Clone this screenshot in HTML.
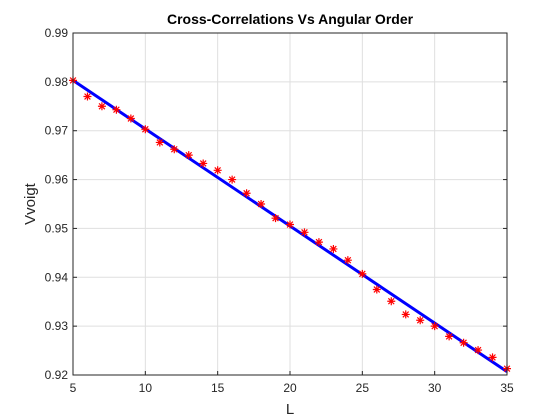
<!DOCTYPE html>
<html><head><meta charset="utf-8"><style>
body{margin:0;background:#fff;}
svg{display:block;font-family:"Liberation Sans",Arial,sans-serif;}
</style></head><body>
<svg id="chart" width="560" height="420">
<rect width="560" height="420" fill="#fff"/>
<rect x="73" y="33" width="434" height="342" fill="#fff"/>
<g id="grid"></g>
<g id="ticks"></g>
<g id="series"></g>
<rect x="73" y="33" width="434" height="342" fill="none" stroke="#262626" stroke-width="1"/>
<text x="290" y="24" text-anchor="middle" font-size="14" font-weight="bold" fill="#000">Cross-Correlations Vs Angular Order</text>
<text x="290" y="414" text-anchor="middle" font-size="15" fill="#262626">L</text>
<text transform="translate(35,204) rotate(-90)" text-anchor="middle" font-size="15" fill="#262626">Vvoigt</text>
</svg>
<script>
const xTicks=[5,10,15,20,25,30,35];
const yTicks=[0.92,0.93,0.94,0.95,0.96,0.97,0.98,0.99];
const yTickLabels=["0.92","0.93","0.94","0.95","0.96","0.97","0.98","0.99"];
const L=[5,6,7,8,9,10,11,12,13,14,15,16,17,18,19,20,21,22,23,24,25,26,27,28,29,30,31,32,33,34,35];
const V=[0.9803,0.9770,0.9750,0.9743,0.9725,0.9703,0.9676,0.9662,0.9650,0.9633,0.9619,0.9600,0.9572,0.9550,0.9521,0.9508,0.9492,0.9472,0.9458,0.9435,0.9407,0.9375,0.9351,0.9324,0.9312,0.9300,0.9279,0.9266,0.9251,0.9236,0.9213];
const fitL=[5,35];
const fitV=[0.9803,0.9207];
const NS='http://www.w3.org/2000/svg';
const X=v=>73+(v-5)/30*434;
const Y=v=>375-(v-0.92)/0.07*342;
function mk(t,a,p){const e=document.createElementNS(NS,t);for(const k in a)e.setAttribute(k,a[k]);p.appendChild(e);return e;}
const grid=document.getElementById('grid'),ticks=document.getElementById('ticks'),series=document.getElementById('series');
xTicks.forEach(t=>{
  const g=mk('line',{x1:X(t),x2:X(t),y1:33,y2:375,stroke:'#dfdfdf'},grid);
  
  const tk=mk('line',{x1:X(t),x2:X(t),y1:375,y2:371,stroke:'#262626'},ticks);
  
  const tx=mk('text',{x:X(t),y:392,'text-anchor':'middle','font-size':'12',fill:'#262626'},ticks);
  tx.textContent=t;
  
});
yTicks.forEach((t,i)=>{
  const g=mk('line',{x1:73,x2:507,y1:Y(t),y2:Y(t),stroke:'#dfdfdf'},grid);
  
  const tk=mk('line',{x1:73,x2:77,y1:Y(t),y2:Y(t),stroke:'#262626'},ticks);
  
  const tk2=mk('line',{x1:503,x2:507,y1:Y(t),y2:Y(t),stroke:'#262626'},ticks);
  
  const tx=mk('text',{x:68,y:Y(t)+4,'text-anchor':'end','font-size':'12',fill:'#262626'},ticks);
  tx.textContent=yTickLabels[i];
  
});
const fit=mk('line',{x1:X(fitL[0]),y1:Y(fitV[0]),x2:X(fitL[1]),y2:Y(fitV[1]),stroke:'#0000ff','stroke-width':'3'},series);

L.forEach((l,i)=>{
  const cx=X(l),cy=Y(V[i]),r=4,d=2.9;
  const p=mk('path',{d:`M${cx-r},${cy}H${cx+r}M${cx},${cy-r}V${cy+r}M${cx-d},${cy-d}L${cx+d},${cy+d}M${cx-d},${cy+d}L${cx+d},${cy-d}`,stroke:'#ff0000','stroke-width':'1.2',fill:'none'},series);
  
});
</script>
</body></html>
